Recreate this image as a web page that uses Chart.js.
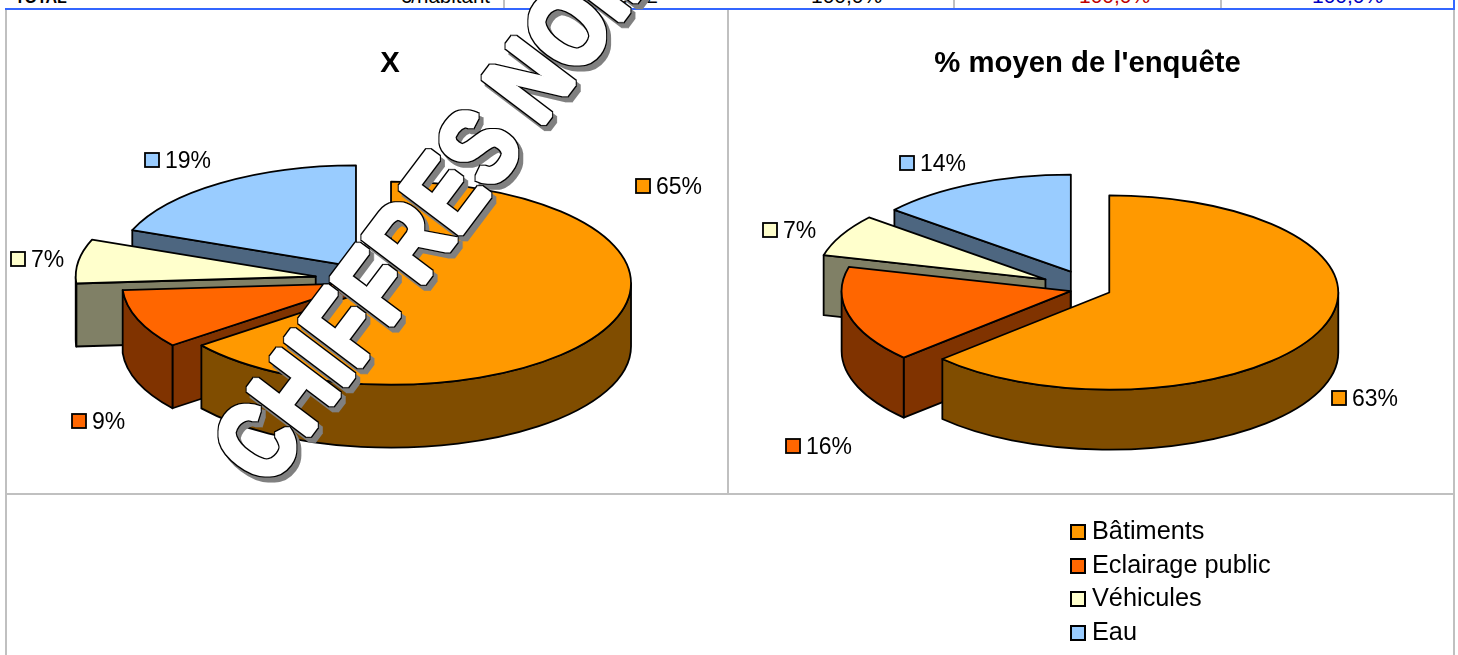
<!DOCTYPE html>
<html>
<head>
<meta charset="utf-8">
<title>Répartition</title>
<script src="https://cdn.jsdelivr.net/npm/chart.js@4/dist/chart.umd.min.js"></script>
<style>
  html, body { margin: 0; padding: 0; background: #fff; }
  body { position: relative; width: 1458px; height: 655px; overflow: hidden; font-family: "Liberation Sans", Arial, sans-serif; }
  .line { position: absolute; background: #c0c0c0; }
  .blue { background: #3366ff; }
  .cell { position: absolute; top: -15px; font-size: 21px; line-height: 22px; white-space: nowrap; }
  canvas { position: absolute; top: 10px; }
  #chartX { left: 0; }
  #chartEnquete { left: 727px; }
  #legend { position: absolute; left: 1070px; top: 514px; }
  #legend div { height: 33.7px; line-height: 33.7px; font-size: 25.3px; white-space: nowrap; }
  #legend i { display: inline-block; width: 12px; height: 12px; border: 2px solid #000; margin-right: 6px; vertical-align: -1px; }
  #stamp { position: absolute; left: 0; top: 0; }
  #stamp text { font: bold 98px "Liberation Sans", Arial, sans-serif; fill: #fff; }
</style>
</head>
<body>
<div class="line" style="left:503px;top:0;width:2px;height:8px"></div>
<div class="line" style="left:953px;top:0;width:2px;height:8px"></div>
<div class="line" style="left:1220px;top:0;width:2px;height:8px"></div>
<div class="line" style="left:5px;top:10px;width:2px;height:645px"></div>
<div class="line" style="left:1453px;top:10px;width:2px;height:645px"></div>
<div class="line" style="left:727px;top:10px;width:2px;height:483px"></div>
<div class="line" style="left:5px;top:493px;width:1450px;height:2px"></div>
<div class="line blue" style="left:5px;top:8px;width:1450px;height:2px"></div>
<div class="line blue" style="left:1453px;top:0;width:2px;height:10px"></div>
<div class="cell" style="left:15px;top:-13px;font-size:16px;font-weight:bold">TOTAL</div>
<div class="cell" style="right:968px;font-size:20.5px">€/habitant</div>
<div class="cell" style="right:800px">39,2</div>
<div class="cell" style="left:811px">100,0%</div>
<div class="cell" style="left:1079px;color:#c00000">100,0%</div>
<div class="cell" style="left:1312px;color:#0000c0">100,0%</div>

<canvas id="chartX" width="780" height="520"></canvas>
<canvas id="chartEnquete" width="721" height="520"></canvas>
<div id="legend"></div>
<svg id="stamp" width="1458" height="655">
  <defs>
    <filter id="outline" filterUnits="userSpaceOnUse" x="0" y="-50" width="1000" height="750" color-interpolation-filters="sRGB">
      <feMorphology in="SourceAlpha" operator="dilate" radius="1.5" result="fat"/>
      <feMorphology in="SourceAlpha" operator="dilate" radius="2.5" result="fatter"/>
      <feFlood flood-color="#808080"/><feComposite in2="fatter" operator="in"/><feOffset dx="4" dy="5" result="shadow"/>
      <feFlood flood-color="#000"/><feComposite in2="fatter" operator="in" result="edge"/>
      <feFlood flood-color="#fff"/><feComposite in2="fat" operator="in" result="face"/>
      <feMerge><feMergeNode in="shadow"/><feMergeNode in="edge"/><feMergeNode in="face"/></feMerge>
    </filter>
  </defs>
  <g filter="url(#outline)"><text transform="translate(268 489) rotate(-53) scale(0.875 1.12)">CHIFFRES NOIRS</text></g>
</svg>

<script>
const categories = ['Bâtiments', 'Eclairage public', 'Véhicules', 'Eau'];
const valuesX = [64.5, 9.4, 7, 19.1];
const valuesEnquete = [63, 16, 7, 14];
const colors = ['#FF9900', '#FF6600', '#FFFFCC', '#99CCFF'];
const sideColors = ['#804D00', '#803300', '#808066', '#4D6680'];

// how far each slice is pulled out of the pie
const explodeX = [14.5, 17, 63, 39];
const explodeEnquete = [21, 20, 50, 45];

// where the value labels sit, in canvas pixels (swatch left, middle y)
const labelSpotsX = [[636, 176], [72, 411], [11, 249], [145, 150]];
const labelSpotsEnquete = [[605, 388], [59, 436], [36, 220], [173, 153]];

function wall(ctx, cx, cy, x, y, depth) {
    ctx.beginPath();
    ctx.moveTo(cx, cy);
    ctx.lineTo(x, y);
    ctx.lineTo(x, y + depth);
    ctx.lineTo(cx, cy + depth);
    ctx.closePath();
    ctx.fill();
    ctx.stroke();
}

function pie3d(squash, depth, shiftX, labelSpots) {
    return {
        id: 'pie3d',
        beforeDatasetDraw(chart, args) {
            const ctx = chart.ctx;
            const arcs = args.meta.data;
            // far slices first, so nearer ones cover them
            for (let i = arcs.length - 1; i >= 0; i--) {
                const arc = arcs[i];
                const mid = (arc.startAngle + arc.endAngle) / 2;
                const cx = arc.x + shiftX + Math.cos(mid) * arc.options.offset;
                const cy = arc.y + Math.sin(mid) * arc.options.offset * squash;
                const rx = arc.outerRadius;
                const ry = rx * squash;
                const px = a => cx + Math.cos(a) * rx;
                const py = a => cy + Math.sin(a) * ry;
                ctx.save();
                ctx.lineWidth = 1.8;
                ctx.lineJoin = 'round';
                ctx.strokeStyle = '#000';
                ctx.fillStyle = sideColors[i];
                // cut faces, only when they look towards the viewer
                if (px(arc.startAngle) < cx) wall(ctx, cx, cy, px(arc.startAngle), py(arc.startAngle), depth);
                if (px(arc.endAngle) > cx) wall(ctx, cx, cy, px(arc.endAngle), py(arc.endAngle), depth);
                // rim, front half of the ellipse only
                const from = Math.max(arc.startAngle, 0);
                const to = Math.min(arc.endAngle, Math.PI);
                if (to > from) {
                    ctx.beginPath();
                    ctx.ellipse(cx, cy, rx, ry, 0, from, to);
                    ctx.lineTo(px(to), py(to) + depth);
                    ctx.ellipse(cx, cy + depth, rx, ry, 0, to, from, true);
                    ctx.closePath();
                    ctx.fill();
                    ctx.stroke();
                }
                ctx.fillStyle = colors[i];
                ctx.beginPath();
                ctx.moveTo(cx, cy);
                ctx.ellipse(cx, cy, rx, ry, 0, arc.startAngle, arc.endAngle);
                ctx.closePath();
                ctx.fill();
                ctx.stroke();
                ctx.restore();
            }
            return false;
        },
        afterDatasetsDraw(chart) {
            const ctx = chart.ctx;
            const values = chart.data.datasets[0].data;
            ctx.save();
            ctx.font = '23px "Liberation Sans", Arial, sans-serif';
            ctx.textBaseline = 'middle';
            values.forEach((v, i) => {
                const [x, y] = labelSpots[i];
                ctx.fillStyle = colors[i];
                ctx.strokeStyle = '#000';
                ctx.lineWidth = 1.8;
                ctx.fillRect(x, y - 7, 14, 14);
                ctx.strokeRect(x, y - 7, 14, 14);
                ctx.fillStyle = '#000';
                ctx.fillText(Math.round(v) + '%', x + 20, y + 2);
            });
            ctx.restore();
        }
    };
}

function makePie(id, title, values, explode, radius, bottom, squash, depth, shiftX, labelSpots) {
    return new Chart(document.getElementById(id), {
        type: 'pie',
        data: {
            labels: categories,
            datasets: [{ data: values, backgroundColor: colors, offset: explode, borderWidth: 0 }]
        },
        options: {
            responsive: false,
            animation: false,
            radius: radius,
            layout: { padding: { bottom: bottom } },
            plugins: {
                legend: { display: false },
                tooltip: { enabled: false },
                title: {
                    display: true,
                    text: title,
                    color: '#000',
                    font: { family: '"Liberation Sans", Arial, sans-serif', size: 29.3, weight: 'bold', lineHeight: 1.2 },
                    padding: { top: 36, bottom: 0 }
                }
            }
        },
        plugins: [pie3d(squash, depth, shiftX, labelSpots)]
    });
}

makePie('chartX', 'X', valuesX, explodeX, 240, 50.2, 0.423, 63, -12, labelSpotsX);
makePie('chartEnquete', "% moyen de l'enquête", valuesEnquete, explodeEnquete, 229, 33.2, 0.424, 60, 2.5, labelSpotsEnquete);

const legend = document.getElementById('legend');
categories.forEach((name, i) => {
    const row = document.createElement('div');
    row.innerHTML = '<i style="background:' + colors[i] + '"></i>' + name;
    legend.appendChild(row);
});
</script>
</body>
</html>
